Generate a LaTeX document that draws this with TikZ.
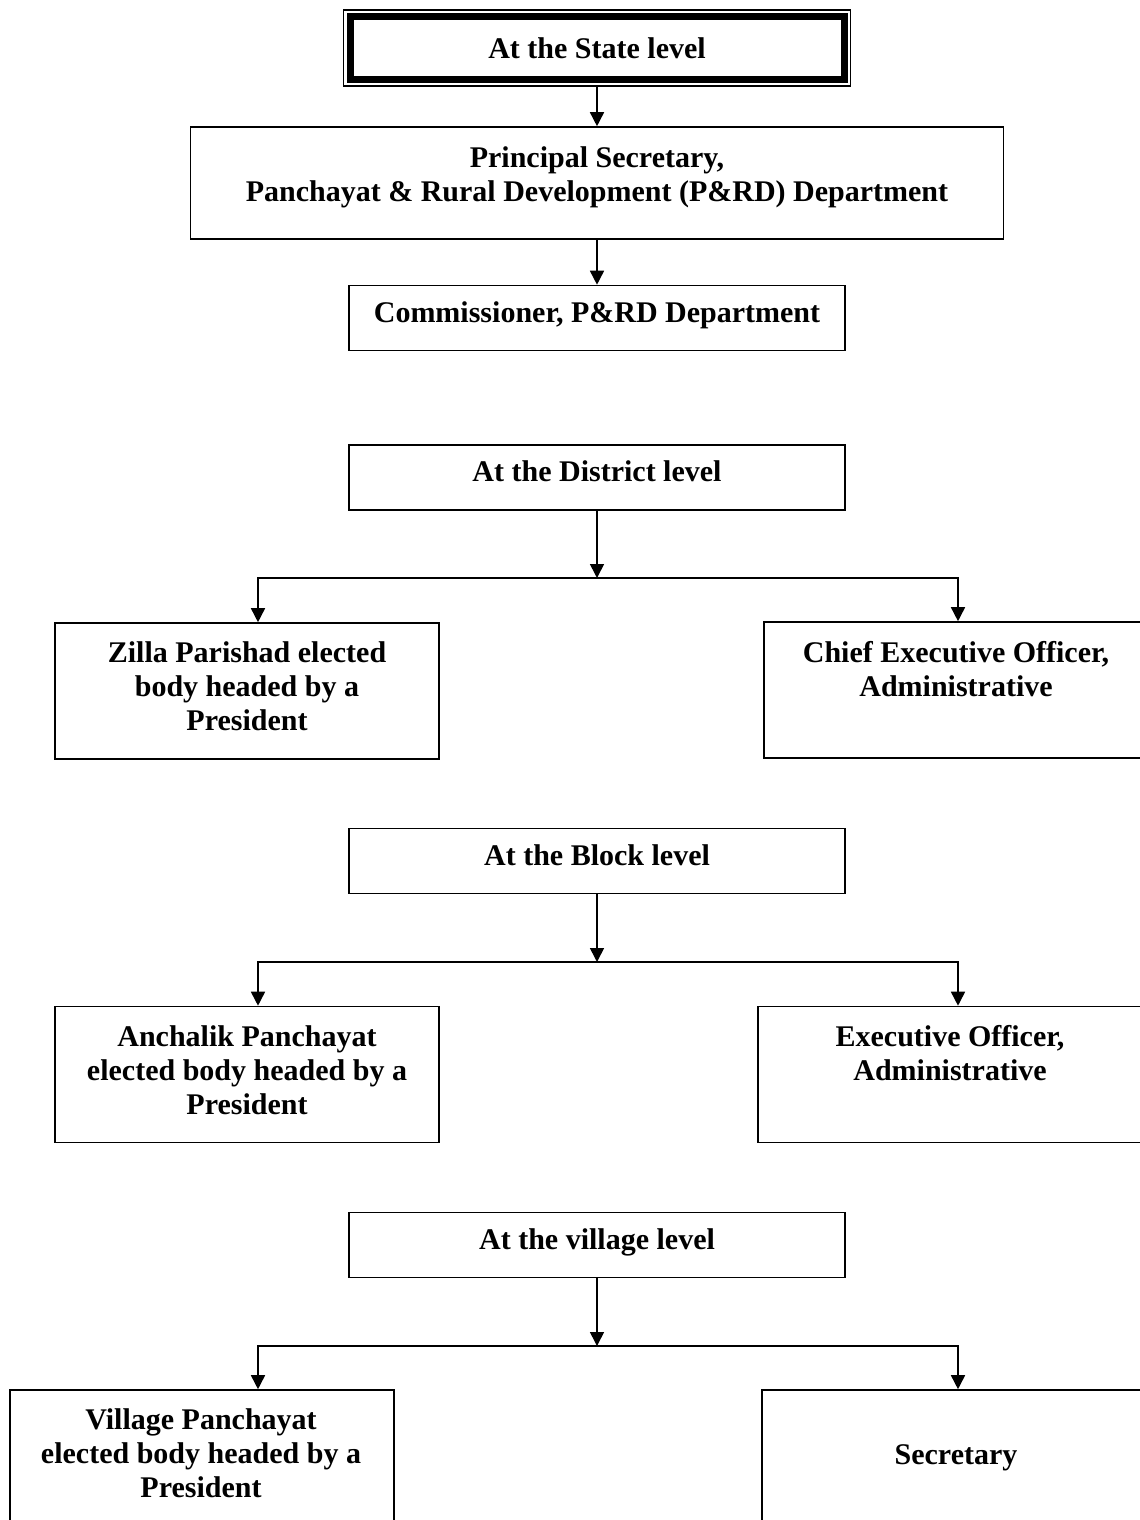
\documentclass[tikz,border=0pt]{standalone}
\usepackage{fontspec}
\setmainfont{Liberation Serif}
\usetikzlibrary{arrows.meta,fit}

\begin{document}
\begin{tikzpicture}[
		x=1pt, y=-1pt,
		every node/.style={font=\fontsize{30}{34}\selectfont\bfseries, align=center, inner sep=0pt},
		frame/.style={draw, line width=1.6pt},
		statebox/.style={draw, line width=7pt, minimum width=494pt, minimum height=63pt},
		lvlbox/.style={frame, minimum width=496pt, minimum height=65pt, text depth=12pt},
		subbox/.style={frame, minimum width=384pt, minimum height=136pt},
		arr/.style={line width=1.6pt, -{Triangle[length=14pt,width=14pt]}}
		]
		
		\clip (0,0) rectangle (1140,1520);
		
		% State level
		\node[statebox] (state) at (597,48) {At the State level};
		\node[draw, line width=1.5pt, inner sep=3pt, fit=(state)] (stateframe) {};
		\node[frame, minimum width=813pt, minimum height=112pt] (principal) at (597,183) {};
		\node (principaltext) at (597,177) {Principal Secretary,\\Panchayat \& Rural Development (P\&RD) Department};
		\node[lvlbox] (commissioner) at (597,318) {Commissioner, P\&RD Department};
		
		% District level
		\node[lvlbox] (district) at (597,477.5) {At the District level};
		\node[subbox] (zilla) at (247,691) {};
		\node (zillatext) at (247,686) {Zilla Parishad elected\\body headed by a\\President};
		\node[subbox, minimum width=388pt] (ceo) at (958,690) {};
		\node (ceotext) at (956,669) {Chief Executive Officer,\\Administrative};
		
		% Block level
		\node[lvlbox] (block) at (597,861) {At the Block level};
		\node[subbox] (anchalik) at (247,1074.5) {};
		\node (anchaliktext) at (247,1070) {Anchalik Panchayat\\elected body headed by a\\President};
		\node[subbox, minimum width=394pt] (exec) at (955,1074.5) {};
		\node (exectext) at (950,1053) {Executive Officer,\\Administrative};
		
		% Village level
		\node[lvlbox] (village) at (597,1245) {At the village level};
		\node[subbox] (villagep) at (202,1458) {};
		\node (villageptext) at (201,1453) {Village Panchayat\\elected body headed by a\\President};
		\node[subbox, minimum width=388pt] (secy) at (956,1458) {Secretary};
		
		% Arrows
		\draw[arr] (stateframe.south) -- (principal.north);
		\draw[arr] (principal.south) -- (commissioner.north);
		\foreach \lvl/\lft/\rgt/\y in {district/zilla/ceo/578, block/anchalik/exec/962, village/villagep/secy/1346} {
			\coordinate (\lvl-l) at (258,\y);
			\coordinate (\lvl-r) at (958,\y);
			\coordinate (\lvl-m) at (\lvl.south |- \lvl-l);
			\draw[arr] (\lvl.south) -- (\lvl-m);
			\draw[arr] (\lvl-m) -- (\lvl-l) -- (\lvl-l |- \lft.north);
			\draw[arr] (\lvl-m) -- (\lvl-r) -- (\lvl-r |- \rgt.north);
		}
		
	\end{tikzpicture}
\end{document}
